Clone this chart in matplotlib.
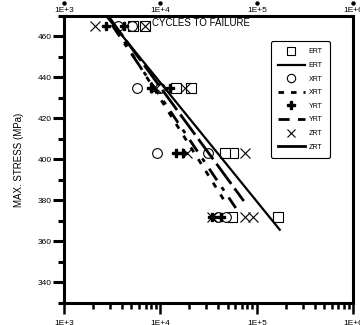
import matplotlib.pyplot as plt
import matplotlib.ticker as mticker
from matplotlib.lines import Line2D

plt.rcParams['font.family'] = ['Liberation Sans', 'DejaVu Sans']

# cycles to failure at each stress level (MPa)
ert_n = [6900, 5200, 21000, 14500, 56000, 47000, 165000, 55000]
ert_s = [465, 465, 435, 435, 403, 403, 372, 372]
xrt_n = [5100, 3600, 5700, 10000, 9200, 31000, 40000, 48000]
xrt_s = [465, 465, 435, 435, 403, 403, 372, 372]
yrt_n = [2700, 4200, 8000, 12500, 14500, 17000, 34000, 43000]
yrt_s = [465, 465, 435, 435, 403, 403, 372, 372]
zrt_n = [2100, 6900, 9000, 17900, 19000, 75000, 34000, 75000, 91000]
zrt_s = [465, 465, 435, 435, 403, 403, 372, 372, 372]

# fitted lines (end points)
ert_fit_n = [2790, 173000]
ert_fit_s = [469.5, 365.7]
xrt_fit_n = [3540, 50000]
xrt_fit_s = [463.2, 377.2]
yrt_fit_n = [3140, 60500]
yrt_fit_s = [465.6, 376.3]
zrt_fit_n = [2860, 73300]
zrt_fit_s = [470, 379.7]

decades = [1e3, 1e4, 1e5, 1e6]
decade_labels = ['1E+3', '1E+4', '1E+5', '1E+6']

fig = plt.figure(figsize=(3.6, 3.25), dpi=100)
ax = fig.add_axes([0.178, 0.068, 0.803, 0.883])

ax.plot(ert_n, ert_s, ls='none', marker='s', mfc='white', mec='black', ms=7, mew=0.8)
ax.plot(xrt_n, xrt_s, ls='none', marker='o', mfc='white', mec='black', ms=7, mew=0.8)
ax.plot(yrt_n, yrt_s, ls='none', marker='P', color='black', ms=6)
ax.plot(zrt_n, zrt_s, ls='none', marker='x', color='black', ms=7, mew=0.8)

ax.plot(ert_fit_n, ert_fit_s, color='black', lw=1.6)
ax.plot(xrt_fit_n, xrt_fit_s, color='black', lw=2, dashes=(2, 3))
ax.plot(yrt_fit_n, yrt_fit_s, color='black', lw=2, dashes=(5, 3, 1.5, 3))
ax.plot(zrt_fit_n, zrt_fit_s, color='black', lw=2, dashes=(9, 2))

ax.set_xscale('log')
ax.set_xlim(1e3, 1e6)
ax.set_ylim(330, 470)
ax.yaxis.set_major_locator(mticker.FixedLocator([340, 360, 380, 400, 420, 440, 460]))
ax.yaxis.set_minor_locator(mticker.MultipleLocator(10))
ax.xaxis.set_major_locator(mticker.FixedLocator(decades))
ax.xaxis.set_major_formatter(mticker.FixedFormatter(decade_labels))
ax.xaxis.set_minor_locator(mticker.LogLocator(base=10, subs=range(2, 10)))
ax.xaxis.set_minor_formatter(mticker.NullFormatter())

for s in ax.spines.values():
    s.set_linewidth(2.2)

ax.tick_params(axis='y', which='major', direction='out', length=8, width=2.2, labelsize=6, pad=1)
ax.tick_params(axis='y', which='minor', direction='out', length=4, width=2.2)
ax.tick_params(axis='x', which='major', direction='out', length=8, width=1.8, labelsize=6, pad=4)
ax.tick_params(axis='x', which='minor', direction='out', length=4, width=1.8)

# labels and dot ticks above the top spine
xt = ax.get_xaxis_transform()
for v, lab in zip(decades, decade_labels):
    ax.annotate(lab, (v, 1.0), xycoords=xt, xytext=(0, 4),
                textcoords='offset points', fontsize=6, ha='center', va='center',
                annotation_clip=False)
ax.plot(decades, [1.045] * 4, transform=xt, ls='none', marker='o', ms=2.2,
        color='black', clip_on=False)

ax.set_ylabel('MAX. STRESS (MPa)', fontsize=7, labelpad=10)
ax.text(0.305, 0.975, 'CYCLES TO FAILURE', transform=ax.transAxes, fontsize=7,
        ha='left', va='center')

handles = [
    Line2D([], [], ls='none', marker='s', mfc='white', mec='black', ms=6, mew=0.8),
    Line2D([], [], color='black', lw=1.6),
    Line2D([], [], ls='none', marker='o', mfc='white', mec='black', ms=6, mew=0.8),
    Line2D([], [], color='black', lw=2, dashes=(2, 2.5)),
    Line2D([], [], ls='none', marker='P', color='black', ms=6),
    Line2D([], [], color='black', lw=2, dashes=(4, 3)),
    Line2D([], [], ls='none', marker='x', color='black', ms=6, mew=0.8),
    Line2D([], [], color='black', lw=2),
]
labels = ['ERT', 'ERT', 'XRT', 'XRT', 'YRT', 'YRT', 'ZRT', 'ZRT']
leg = ax.legend(handles, labels, loc='upper right', bbox_to_anchor=(0.931, 0.923),
                fontsize=5, labelspacing=0.95, handlelength=3.8, handletextpad=0.6,
                borderpad=1.0, fancybox=True, framealpha=1, edgecolor='black')
leg.get_frame().set_linewidth(0.8)

fig.savefig('out.png', dpi=100)
